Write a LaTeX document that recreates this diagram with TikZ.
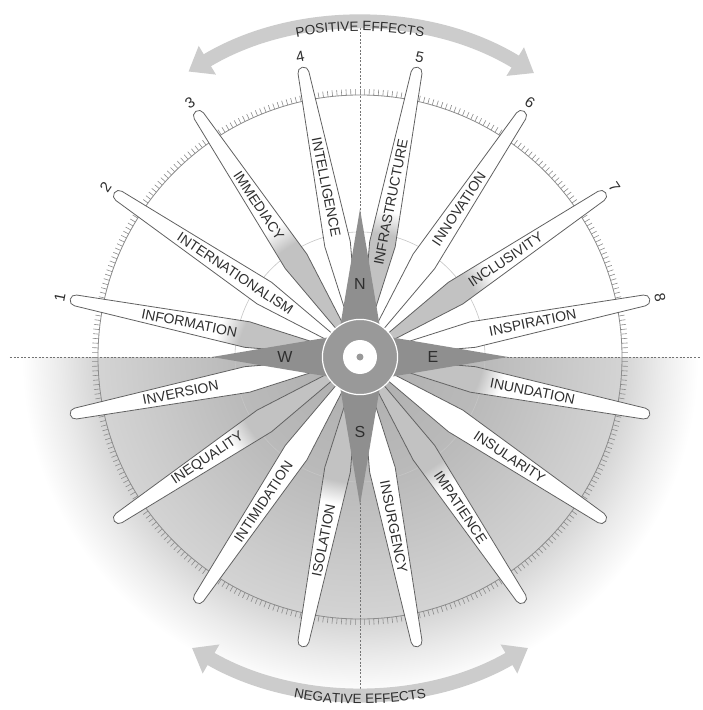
\documentclass[tikz,border=0pt]{standalone}
\usepackage{fontspec}
\setmainfont{Liberation Sans}
\usetikzlibrary{arrows.meta,decorations.text,calc}

\definecolor{rimgray}{gray}{0.55}
\definecolor{pointgray}{gray}{0.56}
\definecolor{hubgray}{gray}{0.6}
\definecolor{petalline}{gray}{0.38}
\definecolor{petalfill}{gray}{0.76}
\definecolor{inkgray}{gray}{0.18}
\definecolor{arrowgray}{gray}{0.8}
\definecolor{axisgray}{gray}{0.45}
\definecolor{lowA}{gray}{0.68}
\definecolor{lowB}{gray}{0.73}
\definecolor{lowC}{gray}{0.83}
\definecolor{lowD}{gray}{0.92}

% radial shadings, 25bp is the radius of the shaded circle
\pgfdeclareradialshading{petalshade}{\pgfpoint{0bp}{0bp}}{color(0bp)=(petalfill); color(9.6bp)=(petalfill); color(11.4bp)=(white); color(50bp)=(white)}
\pgfdeclareradialshading{lowershade}{\pgfpoint{0bp}{0bp}}{color(0bp)=(lowA); color(8.7bp)=(lowB); color(18.2bp)=(lowC); color(20.8bp)=(lowD); color(23.5bp)=(white); color(50bp)=(white)}

\newcommand\effectfont{\fontsize{13.5}{14}\selectfont\color{inkgray}}
\newcommand\petalpath{(0,0) -- (115,-13) -- (290,-5.5) arc[start angle=-90, end angle=90, radius=5.5] -- (115,13) -- cycle}

\begin{document}
\begin{tikzpicture}[x=1pt,y=1pt,
    axis/.style={axisgray, line width=.7pt, dash pattern=on 2pt off 1.6pt},
    rim/.style={rimgray, line width=.8pt},
    petal/.style={draw=petalline, line width=.8pt},
    pointer/.style={fill=pointgray},
    compassletter/.style={inkgray, font=\fontsize{16}{16}\selectfont},
    petallabel/.style={inkgray, font=\fontsize{14}{14}\selectfont, inner sep=0pt},
    petalnumber/.style={inkgray, font=\fontsize{15}{15}\selectfont},
    effectband/.style={arrowgray, line width=14pt, arrows={Triangle[width=32pt,length=22pt]-Triangle[width=32pt,length=22pt]}}
  ]
    \useasboundingbox (-360,-353) rectangle (343,357);
    \fill[white] (-360,-353) rectangle (343,357);

    % lower half shading
    \begin{scope}
      \clip (-360,0) rectangle (360,-360);
      \shade[shading=lowershade] (0,0) circle[radius=360];
    \end{scope}

    % axes
    \draw[axis] (-350,0) -- (340,0);
    \draw[axis] (0,329) -- (0,-335);

    % outer ring with ticks, inner ring
    \draw[rim] (0,0) circle[radius=262];
    \foreach \a in {0,...,359}
      \draw[rim, line width=.6pt] (\a:262) -- (\a:268);
    \draw[gray!45, line width=.6pt] (0,0) circle[radius=125];

    % sixteen petals, every second one grey towards the hub
    \foreach \k in {0,...,15}{
      \pgfmathsetmacro\ang{11.25+22.5*\k}
      \pgfmathtruncatemacro\odd{mod(\k,2)}
      \begin{scope}[rotate=\ang]
        \fill[white] \petalpath;
        \ifnum\odd=1
          \begin{scope}
            \clip \petalpath;
            \shade[shading=petalshade] (0,0) circle[radius=300];
          \end{scope}
        \fi
        \draw[petal] \petalpath;
      \end{scope}
    }

    % cardinal points and hub
    \foreach \a in {0,90,180,270}
      \fill[pointer, rotate=\a] (0,25) -- (148,0) -- (0,-25) -- cycle;
    \fill[hubgray] (0,0) circle[radius=37];
    \draw[white, line width=1.2pt] (0,0) circle[radius=37.6];
    \fill[white] (0,0) circle[radius=17];
    \fill[hubgray] (0,0) circle[radius=3.5];

    \node[compassletter] (north) at (90:73) {N};
    \node[compassletter] (east) at (0:73) {E};
    \node[compassletter] (south) at (270:75) {S};
    \node[compassletter] (west) at (180:75) {W};

    % petal labels
    \foreach \k/\word/\rad in {0/INSPIRATION/176, 1/INCLUSIVITY/175, 2/INNOVATION/178, 3/INFRASTRUCTURE/158,
        4/INTELLIGENCE/173, 5/IMMEDIACY/182, 6/INTERNATIONALISM/150, 7/INFORMATION/174,
        8/INVERSION/183, 9/INEQUALITY/183, 10/INTIMIDATION/174, 11/ISOLATION/187,
        12/INSURGENCY/173, 13/IMPATIENCE/181, 14/INSULARITY/180, 15/INUNDATION/176}{
      \pgfmathsetmacro\ang{11.25+22.5*\k}
      \pgfmathsetmacro\rot{ifthenelse(and(\ang>90,\ang<270),\ang-180,\ang)}
      \node[petallabel, rotate=\rot] (word-\k) at (\ang:\rad) {\word};
    }

    % numbers of the upper petals
    \foreach \k in {0,...,7}{
      \pgfmathsetmacro\ang{11.25+22.5*\k}
      \pgfmathtruncatemacro\num{8-\k}
      \node[petalnumber, rotate=\ang-90] (num-\num) at (\ang:306) {\num};
    }

    % effect arrows
    \draw[effectband] (121:333) arc[start angle=121, end angle=58.5, radius=333];
    \draw[effectband] (240:336) arc[start angle=240, end angle=300, radius=336];
    \path[decorate, decoration={text along path, text align=center, text={|\effectfont|POSITIVE EFFECTS}}]
      (110:326) arc[start angle=110, end angle=70, radius=326];
    \path[decorate, decoration={text along path, text align=center, text={|\effectfont|NEGATIVE EFFECTS}}]
      (250:347) arc[start angle=250, end angle=290, radius=347];
  \end{tikzpicture}
\end{document}
